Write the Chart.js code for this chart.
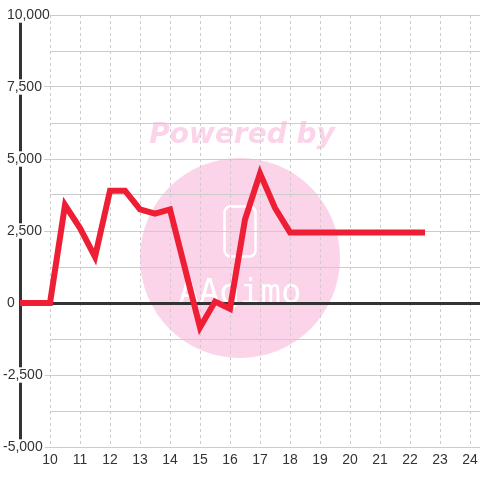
<!DOCTYPE html>
<html>
<head>
<meta charset="utf-8">
<script src="https://cdn.jsdelivr.net/npm/chart.js@4/dist/chart.umd.min.js"></script>
<style>
html,body{margin:0;padding:0;background:#fff;}
canvas{display:block;}
</style>
</head>
<body>
<canvas id="c" width="480" height="480"></canvas>
<script>
// ---- data ----
const xValues = [9, 10, 10.5, 11, 11.5, 12, 12.5, 13, 13.5, 14, 14.5, 15, 15.5, 16, 16.5, 17, 17.5, 18, 18.5, 19, 19.5, 20, 20.5, 21, 21.5, 22, 22.5];
const yValues = [0, 0, 3400, 2600, 1600, 3900, 3900, 3250, 3100, 3250, 1200, -850, 50, -200, 2900, 4500, 3300, 2450, 2450, 2450, 2450, 2450, 2450, 2450, 2450, 2450, 2450];
const xTicks = [10, 11, 12, 13, 14, 15, 16, 17, 18, 19, 20, 21, 22, 23, 24];
const yTicks = [-5000, -3750, -2500, -1250, 0, 1250, 2500, 3750, 5000, 6250, 7500, 8750, 10000];
const yLabelStep = 2500;
const xMin = 10, xMax = 24.333;
const yMin = -5000, yMax = 10000;
const axisLineValue = 9;
const watermarkTitle = 'Powered by';
const watermarkLogo = 'AAgimo';

const FONT = "'Liberation Sans', Arial, sans-serif";

const bgAndWatermark = {
  id: 'bgAndWatermark',
  beforeDraw(chart) {
    const ctx = chart.ctx;
    const area = chart.chartArea;
    ctx.save();
    ctx.fillStyle = '#ffffff';
    ctx.fillRect(0, 0, chart.width, chart.height);
    // watermark
    ctx.fillStyle = '#fbd4ea';
    ctx.beginPath();
    ctx.arc(240, 258, 100, 0, Math.PI * 2);
    ctx.fill();
    ctx.font = "italic bold 28px 'DejaVu Sans', sans-serif";
    ctx.textAlign = 'center';
    ctx.textBaseline = 'alphabetic';
    ctx.fillText(watermarkTitle, 242, 143);
    ctx.strokeStyle = '#ffffff';
    ctx.lineWidth = 2.5;
    ctx.beginPath();
    ctx.roundRect(224.5, 206.5, 31, 50, 6);
    ctx.stroke();
    ctx.fillStyle = '#ffffff';
    ctx.font = "34px 'DejaVu Sans Mono', monospace";
    ctx.fillText(watermarkLogo, 240, 303);
    // thick vertical axis line
    const x = Math.round(chart.scales.x.getPixelForValue(axisLineValue)) + 0.5;
    ctx.strokeStyle = '#333333';
    ctx.lineWidth = 3;
    ctx.beginPath();
    ctx.moveTo(x, area.top);
    ctx.lineTo(x, area.bottom);
    ctx.stroke();
    ctx.restore();
  }
};

new Chart(document.getElementById('c'), {
  type: 'line',
  data: {
    datasets: [{
      data: xValues.map((x, i) => ({ x: x, y: yValues[i] })),
      borderColor: '#ee1f35',
      borderWidth: 6,
      pointRadius: 0,
      pointHoverRadius: 0,
      tension: 0,
      fill: false,
      clip: false
    }]
  },
  options: {
    responsive: false,
    animation: false,
    devicePixelRatio: 1,
    layout: { padding: { top: 15, left: 3, right: 0, bottom: 0 } },
    plugins: { legend: { display: false }, tooltip: { enabled: false } },
    events: [],
    scales: {
      x: {
        type: 'linear',
        min: xMin,
        max: xMax,
        afterBuildTicks: s => { s.ticks = xTicks.map(v => ({ value: v })); },
        afterFit: s => { s.height = 33; s.paddingLeft = 0; s.paddingRight = 0; },
        border: { display: false, dash: [3, 3] },
        grid: {
          color: '#cccccc',
          lineWidth: 1,
          drawTicks: false
        },
        ticks: {
          autoSkip: false,
          maxRotation: 0,
          padding: 5,
          color: '#333333',
          font: { family: FONT, size: 14 },
          callback: v => String(v)
        }
      },
      y: {
        type: 'linear',
        min: yMin,
        max: yMax,
        afterBuildTicks: s => { s.ticks = yTicks.map(v => ({ value: v })); },
        afterFit: s => { s.width = 47; },
        border: { display: false },
        grid: {
          color: c => (c.tick && c.tick.value === 0) ? '#333333' : '#cccccc',
          lineWidth: c => (c.tick && c.tick.value === 0) ? 3 : 1,
          drawTicks: true,
          tickLength: 28,
          tickWidth: 1,
          tickColor: c => (c.tick && c.tick.value % yLabelStep === 0) ? '#cccccc' : 'rgba(0,0,0,0)'
        },
        ticks: {
          autoSkip: false,
          padding: 0,
          crossAlign: 'far',
          color: '#333333',
          font: { family: FONT, size: 14, lineHeight: 1.1 },
          showLabelBackdrop: true,
          backdropColor: '#ffffff',
          backdropPadding: { top: 0, bottom: 0, left: 0, right: 2 },
          callback: v => {
            if (v % yLabelStep !== 0) return '';
            const s = Math.abs(v).toLocaleString('en-US');
            return v < 0 ? '-' + s : ' ' + s;
          }
        }
      }
    }
  },
  plugins: [bgAndWatermark]
});
</script>
</body>
</html>
